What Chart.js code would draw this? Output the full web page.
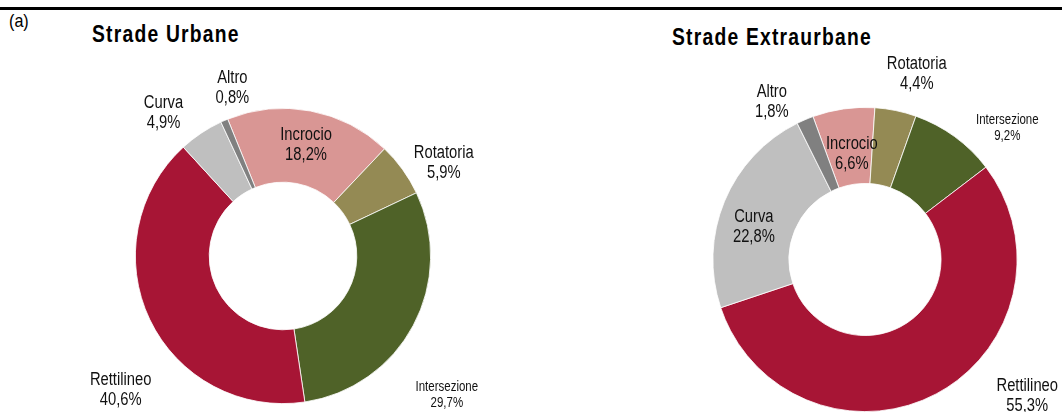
<!DOCTYPE html>
<html>
<head>
<meta charset="utf-8">
<script src="https://cdn.jsdelivr.net/npm/chart.js@4"></script>
<style>
  body { margin: 0; background: #fff; width: 1062px; height: 412px; overflow: hidden; position: relative; font-family: "Liberation Sans", Arial, sans-serif; }
  .rule { position: absolute; left: 0; top: 7px; width: 1062px; height: 3px; background: #000; }
  .tag { position: absolute; left: 9px; top: 11px; font-size: 19px; line-height: 1; color: #000; transform: scaleX(0.85); transform-origin: left top; }
  .title { position: absolute; font-weight: bold; font-size: 23.5px; line-height: 1; color: #000; letter-spacing: 1.5px; white-space: nowrap; transform: scaleX(0.82); transform-origin: left top; }
  canvas { position: absolute; top: 0; }
</style>
</head>
<body>
<div class="rule"></div>
<div class="tag">(a)</div>
<div class="title" style="left:92px; top:23px;">Strade Urbane</div>
<div class="title" style="left:672px; top:26px;">Strade Extraurbane</div>
<canvas id="urbane" width="531" height="412" style="left:0"></canvas>
<canvas id="extra" width="531" height="412" style="left:531px"></canvas>
<script>
// categories and shares (%)
var categories = ["Incrocio", "Rotatoria", "Intersezione", "Rettilineo", "Curva", "Altro"];
var urbaneValues = [18.2, 5.9, 29.7, 40.6, 4.9, 0.8];
var extraValues = [6.6, 4.4, 9.2, 55.3, 22.8, 1.8];
var colors = ["#D99694", "#948A54", "#4F6228", "#A71535", "#BFBFBF", "#808080"];

var FONT = '"Liberation Sans", Arial, sans-serif';

// label placement: distance from centre along slice middle + small nudge
var labelPlugin = {
    id: "sliceLabels",
    afterDatasetsDraw: function (chart, args, opts) {
        var ctx = chart.ctx;
        var meta = chart.getDatasetMeta(0);
        var values = chart.data.datasets[0].data;
        meta.data.forEach(function (arc, i) {
            var mid = (arc.startAngle + arc.endAngle) / 2;
            var d = opts.dist[i];
            var x = arc.x + Math.cos(mid) * d + opts.nudge[i][0];
            var y = arc.y + Math.sin(mid) * d + opts.nudge[i][1];
            var small = categories[i] === "Intersezione";
            var size = small ? 14 : 18;
            var lh = small ? 16 : 20;
            var txt = values[i].toFixed(1).replace(".", ",") + "%";
            ctx.save();
            ctx.fillStyle = "#111";
            ctx.textAlign = "center";
            ctx.textBaseline = "middle";
            ctx.font = size + "px " + FONT;
            ctx.translate(x, y);
            ctx.scale(0.82, 1);   // narrow look
            ctx.fillText(categories[i], 0, -lh / 2);
            ctx.fillText(txt, 0, lh / 2);
            ctx.restore();
        });
    }
};

function makeDoughnut(id, values, rotation, padding, dist, nudge) {
    new Chart(document.getElementById(id).getContext("2d"), {
        type: "doughnut",
        data: {
            labels: categories,
            datasets: [{
                data: values,
                backgroundColor: colors,
                borderColor: "#ffffff",
                borderWidth: 0.8
            }]
        },
        options: {
            responsive: false,
            animation: false,
            cutout: "50%",
            rotation: rotation,
            layout: { padding: padding },
            plugins: {
                legend: { display: false },
                tooltip: { enabled: false },
                sliceLabels: { dist: dist, nudge: nudge }
            }
        },
        plugins: [labelPlugin]
    });
}

makeDoughnut("urbane", urbaneValues, -22,
    { left: 135, right: 100, top: 108, bottom: 8 },
    [113, 180, 214, 212, 183, 175],
    [[2, 0], [15, 13], [-25, 38], [29, 43], [-18, 9], [19, -7]]);

makeDoughnut("extra", extraValues, -20,
    { left: 181, right: 44, top: 107, bottom: 0 },
    [107, 192, 194, 212, 116, 183],
    [[2, 0], [13, 3], [28, 25], [63, -51], [-4, 12], [-21, 11]]);
</script>
</body>
</html>
